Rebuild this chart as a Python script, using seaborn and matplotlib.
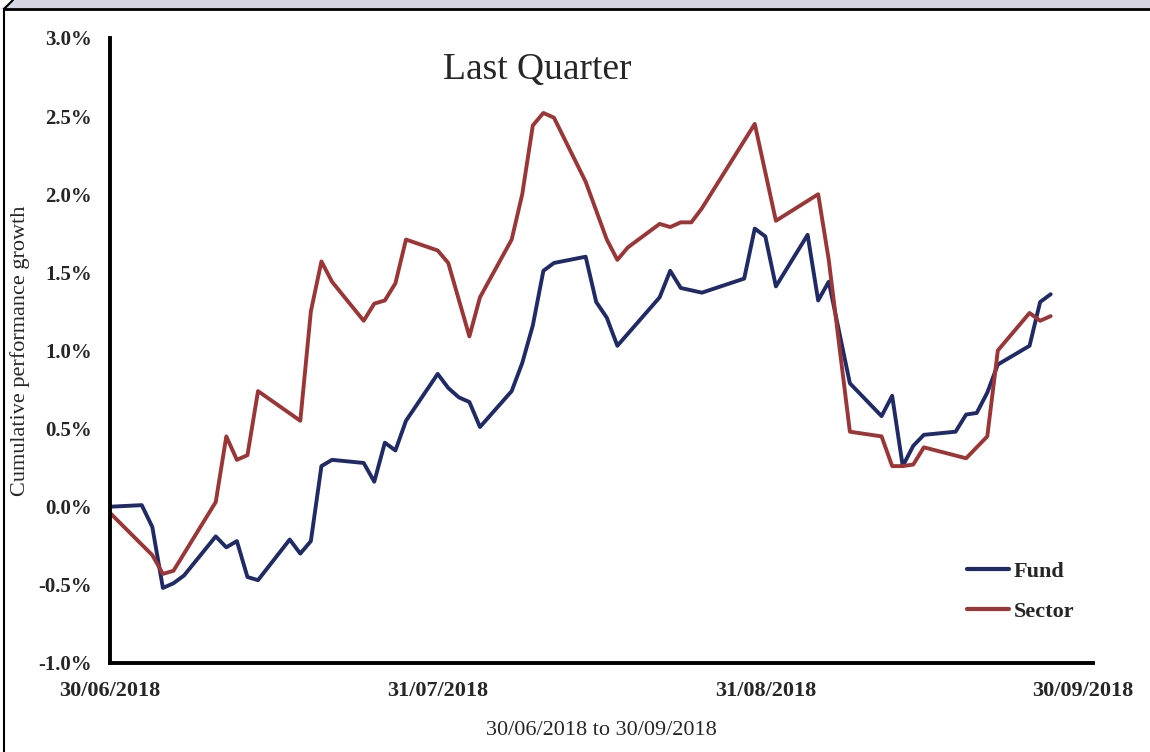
import pandas as pd
import numpy as np
import seaborn as sns
import matplotlib.pyplot as plt
import matplotlib.dates as mdates
from matplotlib.ticker import FuncFormatter
from matplotlib.patches import Polygon
from matplotlib.lines import Line2D

# Data (cumulative growth in %)
fund_dates = [
    "2018-06-30", "2018-07-03", "2018-07-04", "2018-07-05", "2018-07-06", "2018-07-07",
    "2018-07-10", "2018-07-11", "2018-07-12", "2018-07-13", "2018-07-14",
    "2018-07-17", "2018-07-18", "2018-07-19", "2018-07-20", "2018-07-21",
    "2018-07-24", "2018-07-25", "2018-07-26", "2018-07-27", "2018-07-28",
    "2018-07-31", "2018-08-01", "2018-08-02", "2018-08-03", "2018-08-04",
    "2018-08-07", "2018-08-08", "2018-08-09", "2018-08-10", "2018-08-11",
    "2018-08-14", "2018-08-15", "2018-08-16", "2018-08-17",
    "2018-08-21", "2018-08-22", "2018-08-23", "2018-08-25",
    "2018-08-29", "2018-08-30", "2018-08-31", "2018-09-01",
    "2018-09-04", "2018-09-05", "2018-09-06", "2018-09-08",
    "2018-09-11", "2018-09-12", "2018-09-13", "2018-09-14", "2018-09-15",
    "2018-09-18", "2018-09-19", "2018-09-20", "2018-09-21", "2018-09-22",
    "2018-09-25", "2018-09-26", "2018-09-27",
]
fund_values = [
    0.00, 0.01, -0.13, -0.52, -0.49, -0.44,
    -0.19, -0.26, -0.22, -0.45, -0.47,
    -0.21, -0.30, -0.22, 0.26, 0.30,
    0.28, 0.16, 0.41, 0.36, 0.55,
    0.85, 0.76, 0.70, 0.67, 0.51,
    0.74, 0.92, 1.16, 1.51, 1.56,
    1.60, 1.31, 1.21, 1.03,
    1.34, 1.51, 1.40, 1.37,
    1.46, 1.78, 1.73, 1.41,
    1.74, 1.32, 1.44, 0.79,
    0.58, 0.71, 0.26, 0.39, 0.46,
    0.48, 0.59, 0.60, 0.73, 0.91,
    1.03, 1.31, 1.36,
]

sector_dates = [
    "2018-06-30", "2018-07-04", "2018-07-05", "2018-07-06",
    "2018-07-10", "2018-07-11", "2018-07-12", "2018-07-13", "2018-07-14",
    "2018-07-18", "2018-07-19", "2018-07-20", "2018-07-21",
    "2018-07-24", "2018-07-25", "2018-07-26", "2018-07-27", "2018-07-28",
    "2018-07-31", "2018-08-01", "2018-08-03", "2018-08-04",
    "2018-08-07", "2018-08-08", "2018-08-09", "2018-08-10", "2018-08-11",
    "2018-08-14", "2018-08-16", "2018-08-17", "2018-08-18",
    "2018-08-21", "2018-08-22", "2018-08-23", "2018-08-24", "2018-08-25",
    "2018-08-30", "2018-09-01",
    "2018-09-05", "2018-09-06", "2018-09-08",
    "2018-09-11", "2018-09-12", "2018-09-13", "2018-09-14", "2018-09-15",
    "2018-09-19", "2018-09-21", "2018-09-22",
    "2018-09-25", "2018-09-26", "2018-09-27",
]
sector_values = [
    -0.04, -0.31, -0.43, -0.41,
    0.03, 0.45, 0.30, 0.33, 0.74,
    0.55, 1.25, 1.57, 1.44,
    1.19, 1.30, 1.32, 1.43, 1.71,
    1.64, 1.56, 1.09, 1.34,
    1.71, 2.00, 2.44, 2.52, 2.49,
    2.08, 1.71, 1.58, 1.66,
    1.81, 1.79, 1.82, 1.82, 1.91,
    2.45, 1.83,
    2.00, 1.58, 0.48,
    0.45, 0.26, 0.26, 0.27, 0.38,
    0.31, 0.45, 1.00,
    1.24, 1.19, 1.22,
]

series_names = ["Fund", "Sector"]
series_colors = {"Fund": "#1f2a66", "Sector": "#9c3636"}
x_tick_dates = ["2018-06-30", "2018-07-31", "2018-08-31", "2018-09-30"]
y_ticks = [-1.0, -0.5, 0.0, 0.5, 1.0, 1.5, 2.0, 2.5, 3.0]

df = pd.concat([
    pd.DataFrame({"date": pd.to_datetime(fund_dates), "growth": fund_values, "series": "Fund"}),
    pd.DataFrame({"date": pd.to_datetime(sector_dates), "growth": sector_values, "series": "Sector"}),
])

sns.set_style("white")
plt.rcParams["font.family"] = ["Liberation Serif", "DejaVu Serif"]

fig = plt.figure(figsize=(11.5, 7.52), dpi=100)
ax = fig.add_axes([0.0957, 0.1184, 0.8547, 0.8311])

sns.lineplot(data=df, x="date", y="growth", hue="series", hue_order=series_names,
             palette=series_colors, linewidth=2.8, legend=False, ax=ax)

ax.set_xlim(pd.Timestamp("2018-06-30"), pd.Timestamp("2018-10-01"))
ax.set_ylim(-1.0, 3.0)
ax.set_xticks(pd.to_datetime(x_tick_dates))
ax.xaxis.set_major_formatter(mdates.DateFormatter("%d/%m/%Y"))
ax.set_yticks(y_ticks)
ax.yaxis.set_major_formatter(FuncFormatter(lambda v, p: f"{v:.1f}%"))

for s in ["top", "right"]:
    ax.spines[s].set_visible(False)
for s in ["left", "bottom"]:
    ax.spines[s].set_linewidth(2.8)
    ax.spines[s].set_color("black")
ax.tick_params(axis="both", direction="out", length=4, width=2.8, color="black", pad=9)
ax.tick_params(axis="y", labelsize=15)
ax.tick_params(axis="x", labelsize=16)
for lab in ax.get_xticklabels() + ax.get_yticklabels():
    lab.set_fontweight("bold")

ax.set_xlabel("30/06/2018 to 30/09/2018", fontsize=16)
ax.set_ylabel("Cumulative performance growth", fontsize=16)
ax.xaxis.set_label_coords(0.5, -0.093)
ax.yaxis.set_label_coords(-0.081, 0.5)

ax.text(0.435, 0.949, "Last Quarter", transform=ax.transAxes, ha="center", va="center",
        fontsize=27)

handles = [Line2D([], [], color=series_colors[n], linewidth=3) for n in series_names]
ax.legend(handles, series_names, loc="center left", bbox_to_anchor=(0.872, 0.114),
          frameon=False, borderpad=0, borderaxespad=0, handlelength=1.9,
          handletextpad=0.2, labelspacing=0.85, prop={"size": 16, "weight": "bold"})

# chart frame: grey strip at top, black border left and top
W, H = 1150, 752
def fp(x, y):
    return (x / W, 1 - y / H)
strip = Polygon([fp(0, 9), fp(13, 0), fp(W, 0), fp(W, 9)], closed=True,
                transform=fig.transFigure, facecolor="#d3d6e2", edgecolor="none")
fig.add_artist(strip)
fig.add_artist(Line2D(*zip(fp(4, 9), fp(W, 9)), transform=fig.transFigure, color="black", linewidth=2))
fig.add_artist(Line2D(*zip(fp(4, 9), fp(4, H)), transform=fig.transFigure, color="black", linewidth=1.5))
fig.add_artist(Line2D(*zip(fp(4, 9), fp(13, 0)), transform=fig.transFigure, color="black", linewidth=1.5))

fig.savefig("out.png", dpi=100)
